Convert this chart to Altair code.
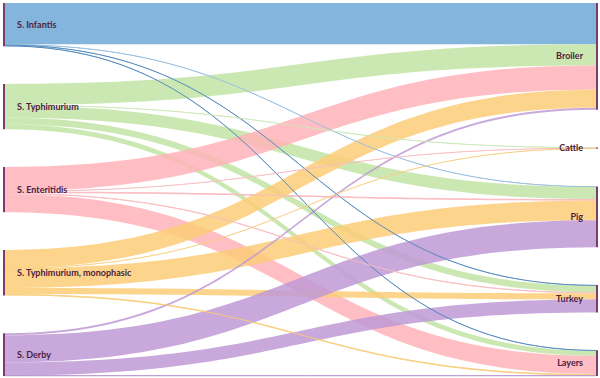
import altair as alt
import pandas as pd
import numpy as np

# ---- data (arbitrary units) ----
sources = ["S. Infantis", "S. Typhimurium", "S. Enteritidis",
           "S. Typhimurium, monophasic", "S. Derby"]
targets = ["Broiler", "Cattle", "Pig", "Turkey", "Layers"]

# flows from each source to [Broiler, Cattle, Pig, Turkey, Layers]
flow_infantis = [41.0, 0.0, 0.5, 0.7, 0.7]
flow_typhimurium = [21.0, 0.5, 12.0, 6.5, 5.0]
flow_enteritidis = [24.0, 0.5, 1.5, 1.0, 18.0]
flow_monophasic = [18.0, 0.3, 19.5, 6.0, 1.5]
flow_derby = [2.0, 0.0, 27.0, 13.0, 0.5]

link_colors = ["#6fa8d6", "#c2e4a6", "#ffb3b9", "#fdcd78", "#c09ad6"]
line_colors = ["#5288ba", "#cfe8b8", "#f7c0c4", "#f8cf83", "#b08ad0"]
node_color = "#7d3c6c"
label_color = "#4e2140"

flows = np.array([flow_infantis, flow_typhimurium, flow_enteritidis,
                  flow_monophasic, flow_derby])

# ---- layout (derived from the values) ----
TOP, BOTTOM = 3.0, 376.0
PAD = 37.7
XL0, XL1 = 3.0, 5.0      # left node column
XR0, XR1 = 596.0, 598.0  # right node column

src_tot = flows.sum(axis=1)
tgt_tot = flows.sum(axis=0)
k = (BOTTOM - TOP - 4 * PAD) / flows.sum()

src_y = TOP + np.concatenate([[0], np.cumsum(src_tot)[:-1]]) * k + np.arange(5) * PAD
tgt_y = TOP + np.concatenate([[0], np.cumsum(tgt_tot)[:-1]]) * k + np.arange(5) * PAD

nodes = []
for i, s in enumerate(sources):
    nodes.append(dict(name=s, x0=XL0, x1=XL1, y0=src_y[i],
                      y1=src_y[i] + max(src_tot[i] * k, 1.0),
                      lx=17.0, ly=src_y[i] + src_tot[i] * k / 2, side="left"))
for j, t in enumerate(targets):
    nodes.append(dict(name=t, x0=XR0, x1=XR1, y0=tgt_y[j],
                      y1=tgt_y[j] + max(tgt_tot[j] * k, 1.0),
                      lx=583.0, ly=tgt_y[j] + tgt_tot[j] * k / 2, side="right"))
nodes = pd.DataFrame(nodes)

# link positions: ordered by target at sources, by source at targets
src_off = np.zeros(5)
tgt_off = np.zeros(5)
rows = []
lines = []
ts = np.linspace(0, 1, 60)
lid = 0
for i in range(5):
    for j in range(5):
        v = flows[i, j]
        if v <= 0:
            continue
        w = v * k
        ys = src_y[i] + src_off[i]
        yt = tgt_y[j] + tgt_off[j]
        src_off[i] += w
        tgt_off[j] += w
        dx = XR0 - XL1
        lc = line_colors[i]
        if i == 0 and j == 2:
            lc = "#9cc0df"
        for t in ts:
            x = XL1 + dx * (1.5 * t * (1 - t) + t ** 3)
            f = 3 * t ** 2 - 2 * t ** 3
            top = ys + (yt - ys) * f
            rows.append(dict(link=lid, x=x, y=top, y2=top + w, c=link_colors[i]))
            if w < 1.6:
                lines.append(dict(link=lid, x=x, y=top + w / 2, c=lc))
        lid += 1

links = pd.DataFrame(rows)
thin = pd.DataFrame(lines)

xs = alt.Scale(domain=[0, 600], nice=False, zero=False)
ys_ = alt.Scale(domain=[0, 378], nice=False, zero=False, reverse=True)

area = alt.Chart(links).mark_area(opacity=0.85, interpolate="linear").encode(
    x=alt.X("x:Q", scale=xs, axis=None),
    y=alt.Y("y:Q", scale=ys_, axis=None),
    y2="y2:Q",
    detail="link:N",
    color=alt.Color("c:N", scale=None),
)

thin_lines = alt.Chart(thin).mark_line(strokeWidth=1.0, opacity=0.95).encode(
    x=alt.X("x:Q", scale=xs, axis=None),
    y=alt.Y("y:Q", scale=ys_, axis=None),
    detail="link:N",
    color=alt.Color("c:N", scale=None),
)

node_marks = alt.Chart(nodes).mark_rect(color=node_color).encode(
    x=alt.X("x0:Q", scale=xs, axis=None), x2="x1:Q",
    y=alt.Y("y0:Q", scale=ys_, axis=None), y2="y1:Q",
)

left_labels = alt.Chart(nodes[nodes.side == "left"]).mark_text(
    align="left", baseline="middle", font="Lato", fontSize=9,
    fontWeight="bold", color=label_color
).encode(
    x=alt.X("lx:Q", scale=xs, axis=None),
    y=alt.Y("ly:Q", scale=ys_, axis=None),
    text="name:N",
)

right_labels = alt.Chart(nodes[nodes.side == "right"]).mark_text(
    align="right", baseline="middle", font="Lato", fontSize=9,
    fontWeight="bold", color=label_color
).encode(
    x=alt.X("lx:Q", scale=xs, axis=None),
    y=alt.Y("ly:Q", scale=ys_, axis=None),
    text="name:N",
)

chart = alt.layer(area, thin_lines, node_marks, left_labels, right_labels).properties(
    width=600, height=378, padding=0,
    autosize=alt.AutoSizeParams(type="none"),
).configure_view(stroke=None)

chart.save("out.html", embed_options={"renderer": "svg", "actions": False})
